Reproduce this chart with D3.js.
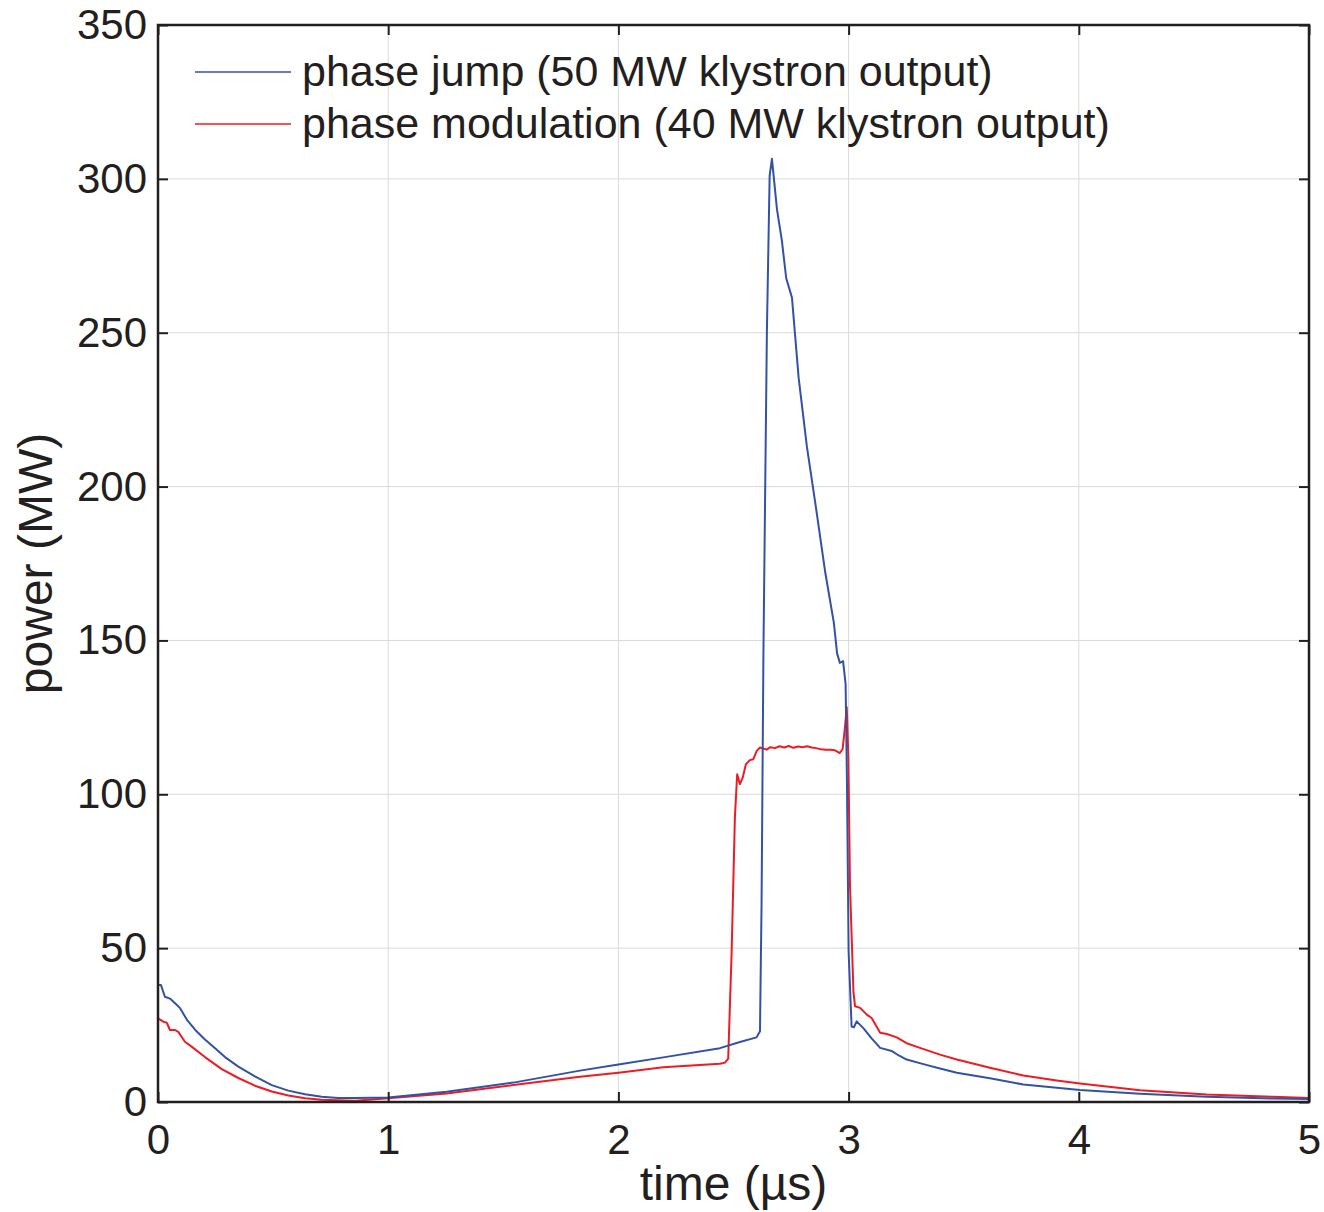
<!DOCTYPE html>
<html>
<head>
<meta charset="utf-8">
<script src="https://cdn.jsdelivr.net/npm/d3@7"></script>
<style>
  body { margin: 0; background: #fff; }
  text { font-family: "Liberation Sans", Arial, Helvetica, sans-serif; fill: #231f20; }
</style>
</head>
<body>
<div id="chart"></div>
<script>
const w = 1324;
const h = 1212;
const margin = {top: 25, right: 15, bottom: 110, left: 158};

const xTicks = [0, 1, 2, 3, 4, 5];
const yTicks = [0, 50, 100, 150, 200, 250, 300, 350];

const seriesNames = ["phase jump (50 MW klystron output)", "phase modulation (40 MW klystron output)"];
const seriesColors = ["#3452a4", "#ed1c24"];

// phase jump (blue)
const jumpT = [0, 0.013, 0.030, 0.052, 0.081, 0.096, 0.125, 0.161, 0.204, 0.248, 0.291, 0.349,
  0.421, 0.494, 0.566, 0.639, 0.711, 0.783, 0.856, 1.0,
  1.254, 1.544, 1.833, 2.0, 2.195, 2.441, 2.528, 2.60, 2.615, 2.622, 2.630, 2.645, 2.657, 2.667,
  2.689, 2.710, 2.729, 2.754, 2.783, 2.819, 2.856, 2.899, 2.936, 2.950, 2.962, 2.976, 2.987,
  2.993, 3.0, 3.013, 3.023, 3.035, 3.064, 3.100, 3.137, 3.187, 3.216, 3.252, 3.325, 3.397,
  3.470, 3.614, 3.759, 4.005, 4.266, 4.555, 4.845, 5.0];
const jumpP = [38, 38, 34.2, 33.6, 31.6, 30.5, 26.8, 23.5, 20.3, 17.5, 14.6, 11.5,
  8.3, 5.5, 3.7, 2.5, 1.7, 1.3, 1.3, 1.5,
  3.3, 6.3, 10.2, 12.2, 14.5, 17.5, 19.5, 21, 23, 65, 146, 250, 301, 306.5,
  290, 280, 267.7, 261.4, 235.3, 212.9, 194.3, 171.9, 155.7, 145.8, 142.7, 143.3, 135.8,
  103, 49, 24.5, 24.3, 26.2, 24.0, 20.7, 17.6, 16.6, 15.2, 13.8, 12.3, 10.9,
  9.5, 7.7, 5.7, 3.9, 2.7, 1.7, 1.1, 1.0];

// phase modulation (red)
const modT = [0, 0.023, 0.038, 0.052, 0.074, 0.088, 0.117, 0.146, 0.204, 0.277, 0.349, 0.421,
  0.494, 0.566, 0.639, 0.711, 0.856, 1.0,
  1.254, 1.544, 1.833, 2.0, 2.195, 2.441, 2.463, 2.477, 2.492, 2.506, 2.516, 2.528, 2.540,
  2.554, 2.571, 2.586, 2.601, 2.615, 2.644, 2.66, 2.68, 2.70, 2.72, 2.74, 2.76, 2.78, 2.80,
  2.82, 2.84, 2.86, 2.88, 2.90, 2.92, 2.941, 2.962, 2.974, 2.984, 2.992, 2.999, 3.006, 3.021,
  3.028, 3.050, 3.079, 3.100, 3.137, 3.166, 3.209, 3.252, 3.310, 3.397, 3.470, 3.614, 3.759,
  3.904, 4.005, 4.266, 4.555, 4.845, 5.0];
const modP = [27.2, 26.1, 25.8, 23.4, 23.4, 22.8, 19.6, 18.0, 14.6, 10.7, 7.8, 5.3,
  3.4, 2.1, 1.2, 0.7, 0.4, 1.2,
  2.8, 5.5, 8.2, 9.5, 11.3, 12.4, 12.8, 14.1, 48.9, 92.4, 106.5, 103.3, 105.4,
  109.8, 111.1, 111.4, 114.1, 115.2, 114.5, 115.3, 115.0, 115.6, 115.2, 115.7, 115.1, 115.5, 115.3,
  115.6, 115.2, 115.0, 114.6, 114.5, 114.5, 114.3, 113.4, 114.7, 121.7, 128.3, 112, 70.7, 35.9,
  31.1, 30.6, 28.4, 27.3, 22.5, 22.1, 21.0, 19.1, 17.6, 15.4, 13.8, 11.1, 8.6,
  7.0, 6.0, 3.8, 2.4, 1.7, 1.3];

const series = [
  {name: seriesNames[0], color: seriesColors[0], values: jumpT.map((t, i) => [t, jumpP[i]])},
  {name: seriesNames[1], color: seriesColors[1], values: modT.map((t, i) => [t, modP[i]])}
];

const x = d3.scaleLinear().domain([0, 5]).range([margin.left, w - margin.right]);
const y = d3.scaleLinear().domain([0, 350]).range([h - margin.bottom, margin.top]);

const svg = d3.select("#chart").append("svg")
  .attr("width", w)
  .attr("height", h);

// grid
svg.append("g").selectAll("line")
  .data(xTicks.slice(1, -1))
  .enter().append("line")
  .attr("x1", d => x(d)).attr("x2", d => x(d))
  .attr("y1", y(0)).attr("y2", y(350))
  .attr("stroke", "#dadada").attr("stroke-width", 1);
svg.append("g").selectAll("line")
  .data(yTicks.slice(1, -1))
  .enter().append("line")
  .attr("x1", x(0)).attr("x2", x(5))
  .attr("y1", d => y(d)).attr("y2", d => y(d))
  .attr("stroke", "#dadada").attr("stroke-width", 1);

// data lines
const line = d3.line().x(d => x(d[0])).y(d => y(d[1]));
svg.append("g").selectAll("path")
  .data(series.slice().reverse())
  .enter().append("path")
  .attr("d", d => line(d.values))
  .attr("fill", "none")
  .attr("stroke", d => d.color)
  .attr("stroke-width", 2)
  .attr("stroke-linejoin", "round");

// axes (ticks inside, mirrored)
const tickLen = 10;
const xAxis = d3.axisBottom(x).tickValues(xTicks).tickSize(-tickLen).tickPadding(22).tickFormat(d3.format("d"));
const yAxis = d3.axisLeft(y).tickValues(yTicks).tickSize(-tickLen).tickPadding(11).tickFormat(d3.format("d"));
const xTop = d3.axisTop(x).tickValues(xTicks).tickSize(-tickLen).tickFormat("");
const yRight = d3.axisRight(y).tickValues(yTicks).tickSize(-tickLen).tickFormat("");

function styleAxis(g) {
  g.select(".domain").remove();
  g.selectAll(".tick line").attr("stroke", "#231f20").attr("stroke-width", 2);
  g.selectAll(".tick text").attr("fill", "#231f20")
    .style("font-family", "'Liberation Sans', Arial, sans-serif")
    .style("font-size", "42px");
}

svg.append("g").attr("transform", "translate(0," + y(0) + ")").call(xAxis).call(styleAxis);
svg.append("g").attr("transform", "translate(" + x(0) + ",0)").call(yAxis).call(styleAxis);
svg.append("g").attr("transform", "translate(0," + y(350) + ")").call(xTop).call(styleAxis);
svg.append("g").attr("transform", "translate(" + x(5) + ",0)").call(yRight).call(styleAxis);

// frame
svg.append("rect")
  .attr("x", x(0)).attr("y", y(350))
  .attr("width", x(5) - x(0)).attr("height", y(0) - y(350))
  .attr("fill", "none").attr("stroke", "#231f20").attr("stroke-width", 2.5);

// axis labels
svg.append("text")
  .text("time (µs)")
  .attr("x", (x(0) + x(5)) / 2).attr("y", 1200)
  .attr("text-anchor", "middle")
  .style("font-size", "48px");
svg.append("text")
  .text("power (MW)")
  .attr("text-anchor", "middle")
  .attr("transform", "translate(52," + ((y(0) + y(350)) / 2) + ")rotate(-90)")
  .style("font-size", "48px");

// legend
const legend = svg.append("g").selectAll("g")
  .data(series)
  .enter().append("g")
  .attr("transform", (d, i) => "translate(195," + (72 + i * 52) + ")");
legend.append("line")
  .attr("x1", 0).attr("x2", 96)
  .attr("stroke", d => d.color).attr("stroke-width", 1.5);
legend.append("text")
  .text(d => d.name)
  .attr("x", 107).attr("y", 14)
  .style("font-size", "43px");
</script>
</body>
</html>
